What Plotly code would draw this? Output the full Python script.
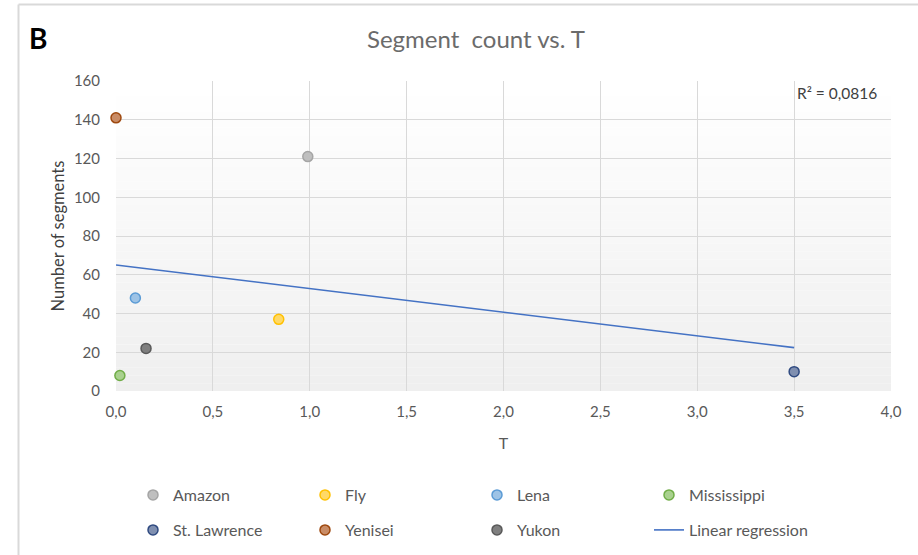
import numpy as np
import plotly.graph_objects as go

# River data: travel-time parameter T and number of channel segments
rivers = ["Amazon", "Fly", "Lena", "Mississippi", "St. Lawrence", "Yenisei", "Yukon"]
t_values = [0.99, 0.84, 0.10, 0.02, 3.50, 0.00, 0.155]
segment_counts = [121, 37, 48, 8, 10, 141, 22]
r_squared_label = "R² = 0,0816"

x_ticks = [0, 0.5, 1.0, 1.5, 2.0, 2.5, 3.0, 3.5, 4.0]
y_ticks = [0, 20, 40, 60, 80, 100, 120, 140, 160]

fill_colors = ["#bfbfbf", "#ffd966", "#9dc3e6", "#a9d18e", "#7f8fb0", "#c98c66", "#7f7f7f"]
edge_colors = ["#a5a5a5", "#ffc000", "#5b9bd5", "#70ad47", "#2f4a80", "#9e480e", "#595959"]

FONT = "Lato"
TXT = "#595959"

W, H = 918, 555
L, R, T, B = 116, 27, 81, 164
pw, ph = W - L - R, H - T - B


def px_x(p):
    return (p - L) / pw


def px_y(p):
    return (H - B - p) / ph


fig = go.Figure()

for i, name in enumerate(rivers):
    fig.add_trace(go.Scatter(
        x=[t_values[i]], y=[segment_counts[i]], mode="markers", name=name,
        marker=dict(size=10, color=fill_colors[i], line=dict(color=edge_colors[i], width=1.5)),
        legend="legend" if i < 4 else "legend2", cliponaxis=False,
        hovertemplate=name + ": T=%{x}, %{y}<extra></extra>",
    ))

# Least-squares trend line over the range of the data
slope, intercept = np.polyfit(t_values, segment_counts, 1)
x_line = np.array([min(t_values), max(t_values)])
fig.add_trace(go.Scatter(
    x=x_line, y=slope * x_line + intercept, mode="lines", name="Linear regression",
    line=dict(color="#4472c4", width=1.6), legend="legend2",
))

# Vertical gradient for the plot area
shapes = []
n_bands = 40
for k in range(n_bands):
    f = k / (n_bands - 1)
    v = int(round(255 - f * (255 - 239)))
    shapes.append(dict(
        type="rect", xref="x domain", yref="y domain",
        x0=0, x1=1, y0=1 - (k + 1) / n_bands, y1=1 - k / n_bands,
        fillcolor=f"rgb({v},{v},{v})", line=dict(width=0), layer="below",
    ))

# Chart frame lines (top and left)
shapes.append(dict(type="line", xref="paper", yref="paper",
                   x0=px_x(18.5), x1=px_x(W + 5), y0=px_y(4.5), y1=px_y(4.5),
                   line=dict(color="#d9d9d9", width=2)))
shapes.append(dict(type="line", xref="paper", yref="paper",
                   x0=px_x(18.5), x1=px_x(18.5), y0=px_y(4.5), y1=px_y(H + 5),
                   line=dict(color="#d9d9d9", width=2)))

legend_common = dict(
    orientation="h", xanchor="left", yanchor="middle",
    font=dict(family=FONT, size=16, color=TXT),
    entrywidth=127, entrywidthmode="pixels",
    bgcolor="rgba(0,0,0,0)", itemclick=False, itemdoubleclick=False,
)

fig.update_layout(
    width=W, height=H,
    margin=dict(l=L, r=R, t=T, b=B, autoexpand=False),
    paper_bgcolor="white", plot_bgcolor="white",
    separators=",.",
    title=dict(text="Segment  count vs. T", x=px_x(476), xref="paper", xanchor="center",
               y=1 - 40 / H, yanchor="middle",
               font=dict(family=FONT, size=24, color="#6b6b6b")),
    xaxis=dict(range=[0, 4], tickvals=x_ticks, tickformat=".1f", automargin=False,
               showgrid=True, gridcolor="#d9d9d9", gridwidth=1,
               zeroline=False, showline=False, ticks="", ticklabelstandoff=10,
               tickfont=dict(family=FONT, size=15, color=TXT),
               title=dict(text="T", font=dict(family=FONT, size=16, color=TXT), standoff=18)),
    yaxis=dict(range=[0, 160], tickvals=y_ticks, automargin=False,
               showgrid=True, gridcolor="#d9d9d9", gridwidth=1,
               zeroline=False, showline=False, ticks="", ticklabelstandoff=15,
               tickfont=dict(family=FONT, size=15, color=TXT),
               title=dict(text="Number of segments", font=dict(family=FONT, size=16.5, color="#404040"),
                          standoff=5)),
    legend=dict(x=px_x(133), y=px_y(495), **legend_common),
    legend2=dict(x=px_x(133), y=px_y(530), **legend_common),
    shapes=shapes,
    annotations=[
        dict(text="<b>B</b>", xref="paper", yref="paper", x=px_x(27), y=px_y(38),
             xanchor="left", yanchor="middle", showarrow=False,
             font=dict(family=FONT, size=28, color="black")),
        dict(text=r_squared_label, xref="paper", yref="paper", x=px_x(795), y=px_y(93),
             xanchor="left", yanchor="middle", showarrow=False,
             font=dict(family=FONT, size=15.5, color="#404040")),
    ],
    showlegend=True,
)

fig.write_html("out.html")
